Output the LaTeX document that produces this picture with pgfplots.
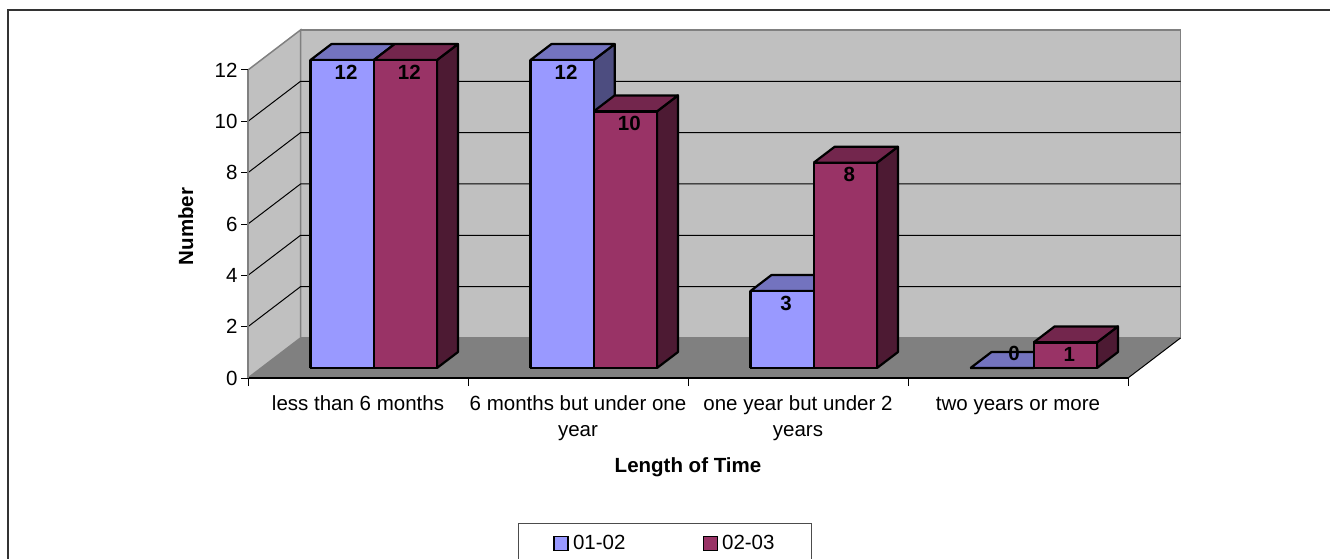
\documentclass[border=0pt]{standalone}
\usepackage{pgfplots}
\pgfplotsset{compat=1.18}
\usepackage{fontspec}
\setmainfont{Liberation Sans}

\definecolor{bluefront}{RGB}{153,153,255}
\definecolor{bluetop}{RGB}{115,115,191}
\definecolor{blueside}{RGB}{77,77,128}
\definecolor{redfront}{RGB}{153,51,102}
\definecolor{redtop}{RGB}{115,38,77}
\definecolor{redside}{RGB}{77,26,51}
\definecolor{wallgray}{RGB}{192,192,192}
\definecolor{floorgray}{RGB}{128,128,128}

\tikzset{bar edge/.style={draw=black, line width=2.2pt, line join=round}}

% one 3D bar: category, series (0 or 1), value, colour
\newcommand{\cbar}[4]{%
  \pgfmathsetmacro\xa{#1+0.2245+#2*0.2875}%
  \pgfmathsetmacro\xb{\xa+0.2875}%
  \pgfmathsetmacro\xm{\xa+0.14375}%
  \pgfmathsetmacro\ly{#3==0 ? 15 : -12}%
  \pgfmathsetmacro\lx{#3==0 ? 12 : 4}%
  \edef\temp{%
    \noexpand\addplot3[fill=#4side, bar edge] coordinates {(\xb,0.62,0) (\xb,1.62,0) (\xb,1.62,#3) (\xb,0.62,#3) (\xb,0.62,0)};
    \noexpand\addplot3[fill=#4top, bar edge] coordinates {(\xa,0.62,#3) (\xb,0.62,#3) (\xb,1.62,#3) (\xa,1.62,#3) (\xa,0.62,#3)};
    \noexpand\addplot3[fill=#4front, bar edge] coordinates {(\xa,0.62,0) (\xb,0.62,0) (\xb,0.62,#3) (\xa,0.62,#3) (\xa,0.62,0)};
    \noexpand\node[font=\noexpand\fontsize{20.5}{24}\noexpand\selectfont\noexpand\bfseries, xshift=\lx pt, yshift=\ly pt] at (axis cs:\xm,0.62,#3) {#3};
  }\temp
}

\begin{document}
\begin{tikzpicture}[x=1pt,y=1pt]
\useasboundingbox (0pt,0pt) rectangle (1330pt,558pt);
\draw[line width=2pt, black!80] (8pt,-5pt) -- (8pt,548pt) -- (1340pt,548pt);

% walls, floor and the bars
\begin{axis}[
    at={(248pt,180pt)}, anchor=origin,
    x={(220pt,0pt)}, y={(21pt,16pt)}, z={(0pt,25.667pt)},
    xmin=0, xmax=4, ymin=0, ymax=2.5, zmin=0, zmax=12,
    hide axis, clip=false,
]
\addplot3[fill=wallgray, draw=floorgray, line width=1.5pt] coordinates {(0,2.5,0) (4,2.5,0) (4,2.5,12) (0,2.5,12) (0,2.5,0)};
\addplot3[fill=wallgray, draw=floorgray, line width=1.5pt] coordinates {(0,0,0) (0,2.5,0) (0,2.5,12) (0,0,12) (0,0,0)};
\addplot3[fill=floorgray, draw=none] coordinates {(0,0,0) (4,0,0) (4,2.5,0) (0,2.5,0) (0,0,0)};
\addplot3[black, line width=1pt] coordinates {(4,0,0) (4,2.5,0)};
\pgfplotsinvokeforeach{2,4,6,8,10}{
  \addplot3[black, line width=1pt] coordinates {(0,0,#1) (0,2.5,#1) (4,2.5,#1)};
}
% 01-02 / 02-03
\cbar{0}{0}{12}{blue}
\cbar{0}{1}{12}{red}
\cbar{1}{0}{12}{blue}
\cbar{1}{1}{10}{red}
\cbar{2}{0}{3}{blue}
\cbar{2}{1}{8}{red}
\cbar{3}{0}{0}{blue}
\cbar{3}{1}{1}{red}
\end{axis}

% front axis: ticks, labels, legend
\begin{axis}[
    at={(248pt,180pt)}, anchor=origin,
    x={(220pt,0pt)}, y={(0pt,25.667pt)},
    xmin=0, xmax=4, ymin=0, ymax=12,
    axis x line=bottom, axis y line=left,
    axis line style={-},
    x axis line style={black, line width=2pt},
    y axis line style={floorgray, line width=1.5pt},
    tick align=outside,
    ytick={0,2,...,12},
    xtick={0.5,1.5,2.5,3.5},
    xticklabels={\strut less than 6 months, \strut 6 months but under one\\year, \strut one year but under 2\\years, \strut two years or more},
    xticklabel style={align=center, yshift=-4pt},
    minor xtick={0,1,2,3,4},
    major x tick style={draw=none},
    minor x tick style={black, line width=1pt},
    ytick style={black, line width=1pt},
    major tick length=7pt, minor tick length=8pt,
    tick label style={font=\fontsize{20.5}{26}\selectfont},
    /pgf/number format/assume math mode=true,
    xlabel={Length of Time},
    xlabel style={font=\fontsize{20.5}{24}\selectfont\bfseries, at={(axis description cs:0.5,-0.3084)}, anchor=base},
    ylabel={Number},
    ylabel style={font=\fontsize{20.5}{24}\selectfont\bfseries, at={(axis description cs:-0.0625,0.4919)}, anchor=base},
    legend columns=2,
    legend image code/.code={\draw[#1, draw=black, line width=1.6pt] (0pt,-7pt) rectangle (14pt,7pt);},
    legend style={at={(axis description cs:0.3068,-0.4708)}, anchor=north west,
        draw=black!70, line width=1pt, font=\fontsize{20.5}{24}\selectfont,
        inner xsep=35pt, inner ysep=10pt,
        /tikz/every even column/.append style={column sep=75pt},
        /tikz/every odd column/.append style={column sep=2pt}},
]
\addlegendimage{fill=bluefront}
\addlegendentry{01-02}
\addlegendimage{fill=redfront}
\addlegendentry{02-03}
\end{axis}
\end{tikzpicture}
\end{document}
